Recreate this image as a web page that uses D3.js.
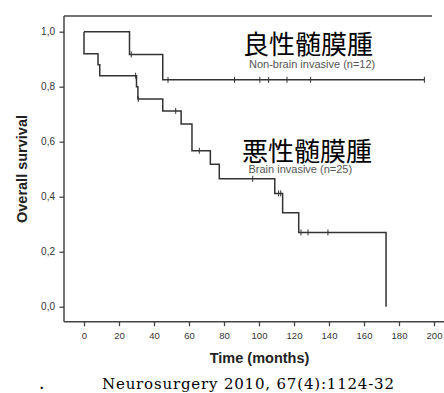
<!DOCTYPE html>
<html>
<head>
<meta charset="utf-8">
<script src="https://cdn.jsdelivr.net/npm/d3@7"></script>
<style>
  body { margin: 0; background: #fff; }
  svg { display: block; }
</style>
</head>
<body>
<svg width="444" height="393"></svg>
<script>
// Kaplan-Meier steps (time in months, survival fraction)
const benignTimes = [0, 26, 45, 194.5]
const benignSurv = [1, 0.917, 0.825, 0.825]
const benignCensor = [27, 48, 86, 100.5, 105.5, 116, 129.5, 194.5]

const malignTimes = [0, 0, 8, 9, 30, 30.8, 45, 55.5, 61.7, 72.2, 77.3, 109, 113.5, 122.7, 172.6]
const malignSurv = [1, 0.92, 0.88, 0.84, 0.80, 0.755, 0.712, 0.664, 0.567, 0.518, 0.465, 0.412, 0.342, 0.27, 0]
const malignCensor = [29.5, 31, 52.4, 65.9, 96.4, 111.2, 112.4, 124, 128, 139.4]

const xTicks = [0, 20, 40, 60, 80, 100, 120, 140, 160, 180, 200]
const yTicks = [0, 0.2, 0.4, 0.6, 0.8, 1.0]

const svg = d3.select('svg')
const x = d3.scaleLinear().domain([0, 200]).range([84, 434])
const y = d3.scaleLinear().domain([0, 1]).range([306.7, 31.7])

const axisColor = '#444'
const sans = 'Liberation Sans, Arial, sans-serif'
const plotLeft = 64, plotTop = 16, plotBottom = 321.7

// frame: left axis, top border, bottom axis
svg.append('line').attr('x1', plotLeft).attr('x2', plotLeft).attr('y1', plotTop).attr('y2', plotBottom)
  .attr('stroke', axisColor).attr('stroke-width', 1.5)
svg.append('line').attr('x1', plotLeft).attr('x2', 432).attr('y1', plotTop).attr('y2', plotTop)
  .attr('stroke', axisColor).attr('stroke-width', 1.5)
svg.append('line').attr('x1', plotLeft).attr('x2', 444).attr('y1', plotBottom).attr('y2', plotBottom)
  .attr('stroke', axisColor).attr('stroke-width', 1.5)

const yAxis = svg.append('g').attr('transform', `translate(${plotLeft},0)`)
  .call(d3.axisLeft(y).tickValues(yTicks).tickSize(4.5).tickPadding(4.5)
    .tickFormat(d => d3.format('.1f')(d).replace('.', ',')))
yAxis.select('.domain').remove()
yAxis.selectAll('.tick text').style('font-size', '10px')

const xAxis = svg.append('g').attr('transform', `translate(0,${plotBottom})`)
  .call(d3.axisBottom(x).tickValues(xTicks).tickSize(4.5).tickPadding(6.5))
xAxis.select('.domain').remove()
xAxis.selectAll('.tick text').style('font-size', '9.5px')

svg.selectAll('.tick line').attr('stroke', axisColor).attr('stroke-width', 1.3)
svg.selectAll('.tick text').attr('fill', '#333').style('font-family', sans)

// axis titles
svg.append('text').attr('transform', 'translate(27,169) rotate(-90)')
  .attr('text-anchor', 'middle')
  .style('font-family', sans).style('font-weight', 'bold')
  .style('font-size', '14.5px').attr('fill', '#222').text('Overall survival')

svg.append('text').attr('x', 259.5).attr('y', 362.5).attr('text-anchor', 'middle')
  .style('font-family', sans).style('font-weight', 'bold')
  .style('font-size', '14.5px').attr('fill', '#222').text('Time (months)')

// survival curves
const line = d3.line().x(d => x(d[0])).y(d => y(d[1])).curve(d3.curveStepAfter)
function survAt (times, surv, t) {
  let s = surv[0]
  times.forEach((tt, i) => { if (tt <= t) s = surv[i] })
  return s
}
function drawCurve (times, surv, censor) {
  svg.append('path').datum(times.map((t, i) => [t, surv[i]]))
    .attr('d', line).attr('fill', 'none').attr('stroke', '#333').attr('stroke-width', 1.5)
  svg.selectAll(null).data(censor).enter().append('line')
    .attr('x1', d => x(d)).attr('x2', d => x(d))
    .attr('y1', d => y(survAt(times, surv, d)) - 3)
    .attr('y2', d => y(survAt(times, surv, d)) + 3)
    .attr('stroke', '#333').attr('stroke-width', 1)
}
drawCurve(benignTimes, benignSurv, benignCensor)
drawCurve(malignTimes, malignSurv, malignCensor)

// group labels
const cjk = '"Noto Sans CJK JP", "Noto Sans CJK SC", sans-serif'
svg.append('text').attr('x', 243).attr('y', 54).style('font-family', cjk)
  .style('font-size', '26px').attr('fill', '#000').text('良性髄膜腫')
svg.append('text').attr('x', 249).attr('y', 68).style('font-family', sans)
  .style('font-size', '11px').attr('fill', '#555').text('Non-brain invasive (n=12)')
svg.append('text').attr('x', 242).attr('y', 161).style('font-family', cjk)
  .style('font-size', '26px').attr('fill', '#000').text('悪性髄膜腫')
svg.append('text').attr('x', 248.5).attr('y', 173).style('font-family', sans)
  .style('font-size', '11px').attr('fill', '#555').text('Brain invasive (n=25)')

// citation
svg.append('text').attr('x', 102).attr('y', 389).attr('textLength', 292)
  .style('font-family', '"DejaVu Serif", "Liberation Serif", serif')
  .style('font-size', '15px').attr('fill', '#000').text('Neurosurgery 2010, 67(4):1124-32')
svg.append('text').attr('x', 40).attr('y', 389)
  .style('font-family', '"Liberation Serif", serif').style('font-weight', 'bold')
  .style('font-size', '14px').attr('fill', '#000').text('.')
</script>
</body>
</html>
